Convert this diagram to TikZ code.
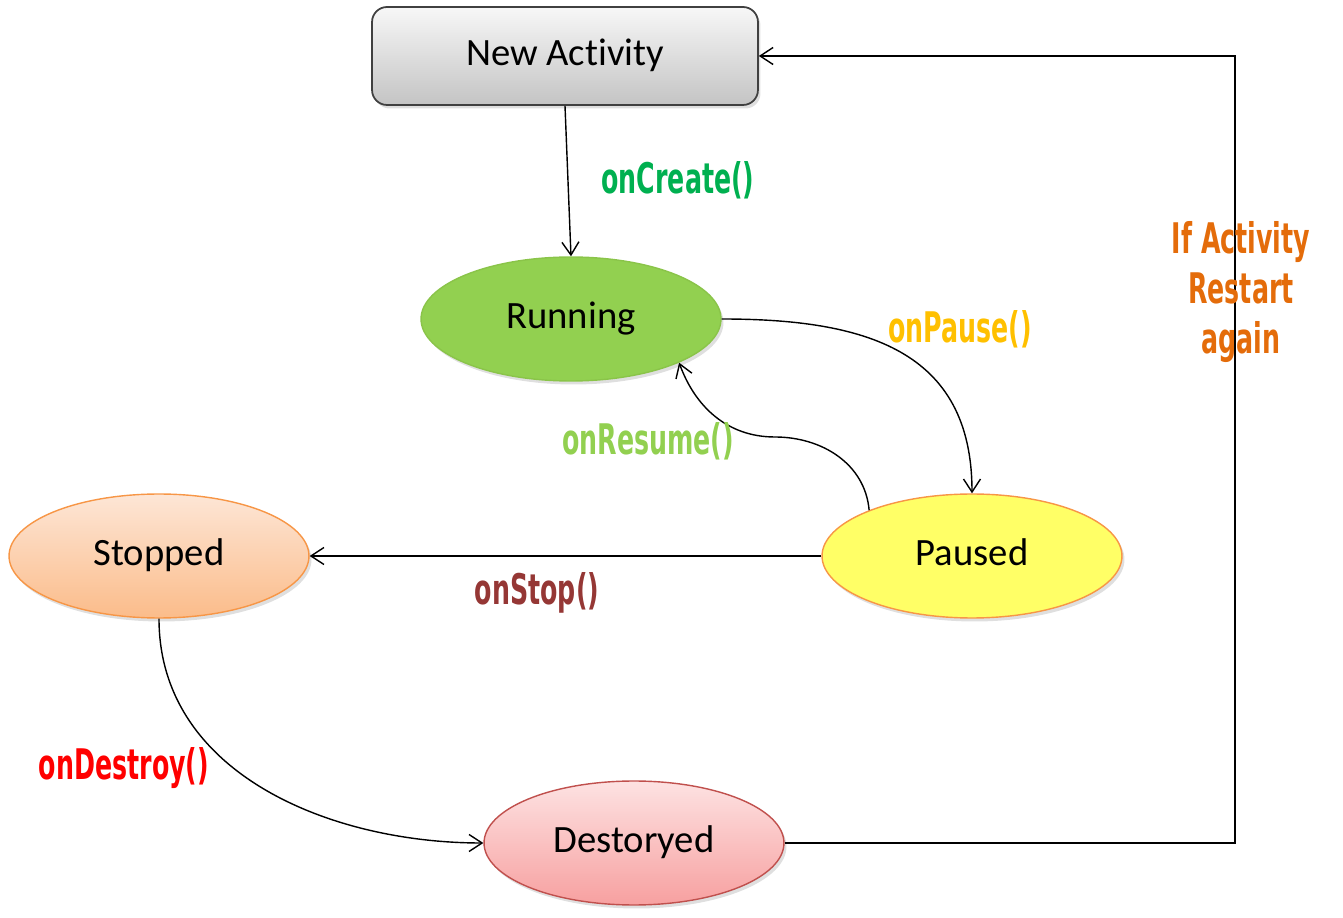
\documentclass[tikz,border=0pt]{standalone}
\usepackage{fontspec}
\setmainfont{Carlito}[Ligatures=NoCommon]
\newfontfamily\lblfont[FakeStretch=0.6]{DejaVu Sans}
\usetikzlibrary{arrows.meta,%
                shapes.geometric,%
                shadows}
\definecolor{actop}{HTML}{F7F7F7}
\definecolor{acbot}{HTML}{C4C4C4}
\definecolor{runfill}{HTML}{92D050}
\definecolor{runline}{HTML}{8AC449}
\definecolor{pausefill}{HTML}{FFFF66}
\definecolor{orline}{HTML}{F79646}
\definecolor{stoptop}{HTML}{FDE6D6}
\definecolor{stopbot}{HTML}{FBBC8A}
\definecolor{destop}{HTML}{FDE2E2}
\definecolor{desbot}{HTML}{F7A0A0}
\definecolor{desline}{HTML}{C0504D}
\definecolor{crcol}{HTML}{00B050}
\definecolor{pacol}{HTML}{FFC000}
\definecolor{recol}{HTML}{92D050}
\definecolor{stcol}{HTML}{953735}
\definecolor{dscol}{HTML}{FF0000}
\definecolor{rscol}{HTML}{E46C0A}
\tikzstyle{softshadow}=[drop shadow={opacity=0.25,shadow xshift=0.05cm,shadow yshift=-0.07cm}]
\tikzstyle{stt}=[ellipse, draw, line width=0.8pt, minimum width=6cm, minimum height=2.48cm,
                 font=\fontsize{22}{26}\selectfont, softshadow]
\tikzstyle{newact}=[rectangle, rounded corners=0.3cm, draw=black!75, line width=1pt,
                    top color=actop, bottom color=acbot, minimum width=7.72cm, minimum height=1.96cm,
                    font=\fontsize{22}{26}\selectfont, softshadow]
\tikzstyle{lbl}=[font=\lblfont\bfseries\fontsize{24}{28}\selectfont, inner sep=0pt]
\tikzstyle{con}=[line width=0.8pt, -{Straight Barb[length=2.6mm,width=3.4mm]}]

\begin{document}
\begin{tikzpicture}[x=0.02cm,y=0.02cm]
  \useasboundingbox (0,0) rectangle (1343,-918);

  \node[newact] (new) at (565,-56) {\strut New Activity};
  \node[stt, fill=runfill, draw=runline] (run) at (571,-319) {\strut Running};
  \node[stt, fill=pausefill, draw=orline] (pau) at (972,-556) {\strut Paused};
  \node[stt, top color=stoptop, bottom color=stopbot, draw=orline] (stp) at (159,-556) {\strut Stopped};
  \node[stt, top color=destop, bottom color=desbot, draw=desline] (des) at (634,-843) {\strut Destoryed};

  \coordinate (rsm) at (775,-437);
  \coordinate (rst) at (1235,-843);

  \draw[con] (new.south) -- (run.north);
  \draw[con] (run.east) to[out=0,in=90,looseness=1.2] (pau.north);
  \draw[con] (pau.156) to[out=95,in=0] (rsm) to[out=180,in=-70] (run.338);
  \draw[con] (pau.west) -- (stp.east);
  \draw[con] (stp.south) to[out=-90,in=180] (des.west);
  \draw[con] (des.east) -- (rst) |- (new.east);

  % labels
  \node[lbl, text=crcol] (lcreate) at (678,-180) {onCreate()};
  \node[lbl, text=pacol] (lpause) at (960,-329) {onPause()};
  \node[lbl, text=recol] (lresume) at (648,-441) {onResume()};
  \node[lbl, text=stcol] (lstop) at (537,-593) {onStop()};
  \node[lbl, text=dscol] (ldestroy) at (124,-768) {onDestroy()};
  \node[lbl, text=rscol, align=center, font=\lblfont\bfseries\fontsize{24}{28.5}\selectfont] (lrestart) at (1241,-292) {If Activity\\Restart\\again};
\end{tikzpicture}
\end{document}
